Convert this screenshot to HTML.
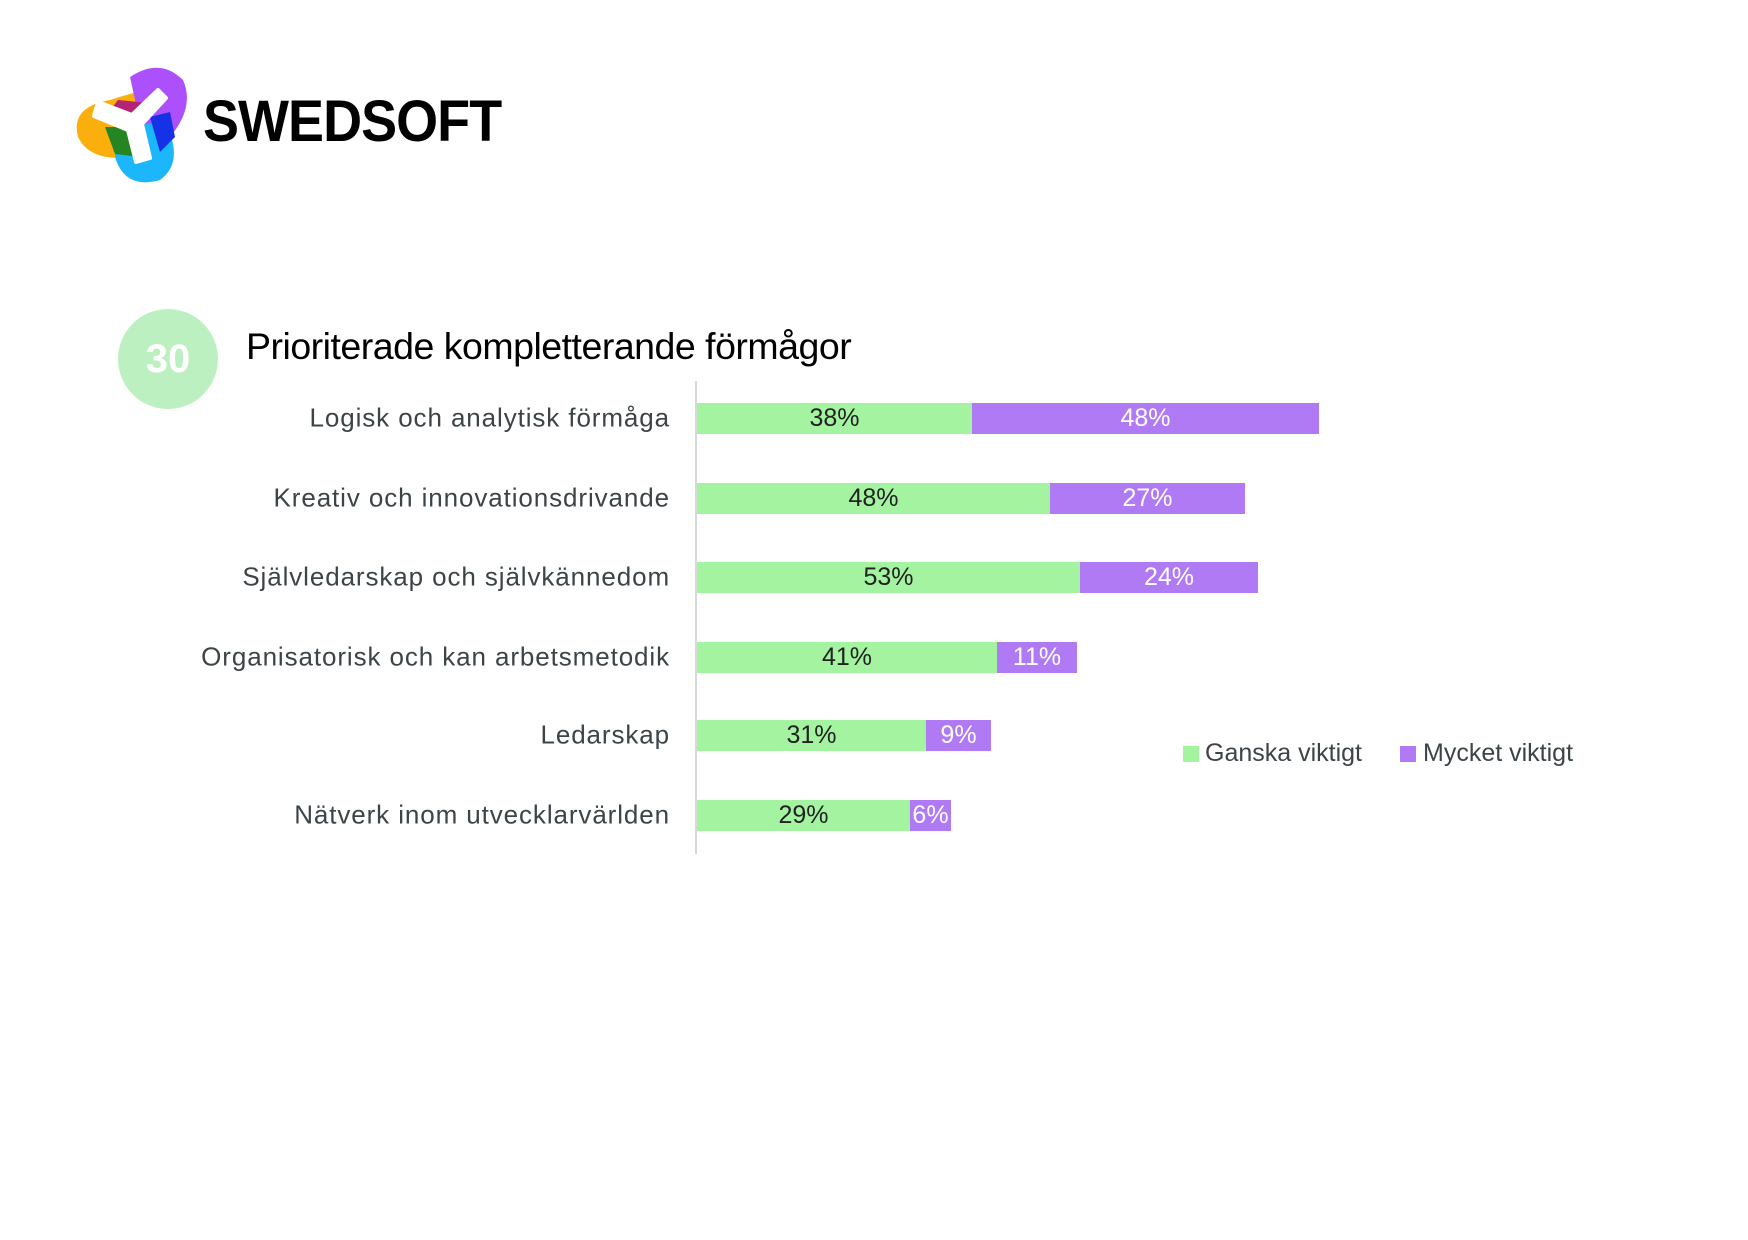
<!DOCTYPE html>
<html><head><meta charset="utf-8"><style>
body{margin:0;width:1748px;height:1240px;background:#fff;position:relative;overflow:hidden;font-family:"Liberation Sans",sans-serif}
.a{position:absolute}
.lab{position:absolute;right:1078px;font-size:26px;letter-spacing:0.9px;color:#3d4448;white-space:nowrap;transform:translateY(-50%)}
.bar{position:absolute;height:31px;font-size:25px;text-align:center;line-height:31px;color:#222}
.g{background:#a3f3a0}.p{background:#b07af5;color:#fff}
</style></head><body>
<svg class="a" style="left:70px;top:62px" width="130" height="130" viewBox="0 0 130 130">
<g opacity="0.95">
<path d="M40 38 Q95 20 105 30 L60 95 Q20 100 8 75 Q0 45 40 38Z" fill="#fbab00"/>
<path d="M60 15 Q90 -5 113 18 Q125 45 100 75 L70 60Z" fill="#a847fb"/>
<path d="M45 65 L95 60 Q115 100 90 118 Q55 128 45 95Z" fill="#10b3fb"/>
<path d="M48 38 L88 42 L73 65 L35 55Z" fill="#b0186f"/>
<path d="M80 55 L100 50 L105 75 L90 90Z" fill="#0a28e6"/>
<path d="M35 65 L65 65 L70 95 L45 92Z" fill="#1a7f18"/>
</g>
<path d="M28 40 L62 53 L88 28 L96 36 L72 62 L80 96 L66 100 L58 68 L24 54Z" fill="#fff" stroke="#fff" stroke-width="4" stroke-linejoin="round"/>
</svg>
<div class="a" style="left:203px;top:88px;font-size:58px;font-weight:bold;letter-spacing:-1px;color:#000;transform:scaleX(0.93);transform-origin:left">SWEDSOFT</div>
<div class="a" style="left:118px;top:309px;width:100px;height:100px;border-radius:50%;background:#bdf0c0;color:#fff;font-weight:bold;font-size:40px;line-height:100px;text-align:center">30</div>
<div class="a" style="left:246px;top:325px;font-size:37.5px;color:#000;letter-spacing:-0.5px">Prioriterade kompletterande förmågor</div>
<div class="a" style="left:695px;top:381px;width:2px;height:473px;background:#d4dad8"></div>

<div class="lab" style="top:418px">Logisk och analytisk förmåga</div>
<div class="bar g" style="left:697px;top:403px;width:275px">38%</div><div class="bar p" style="left:972px;top:403px;width:347px">48%</div>
<div class="lab" style="top:498px">Kreativ och innovationsdrivande</div>
<div class="bar g" style="left:697px;top:483px;width:353px">48%</div><div class="bar p" style="left:1050px;top:483px;width:195px">27%</div>
<div class="lab" style="top:577px">Självledarskap och självkännedom</div>
<div class="bar g" style="left:697px;top:562px;width:383px">53%</div><div class="bar p" style="left:1080px;top:562px;width:178px">24%</div>
<div class="lab" style="top:657px">Organisatorisk och kan arbetsmetodik</div>
<div class="bar g" style="left:697px;top:642px;width:300px">41%</div><div class="bar p" style="left:997px;top:642px;width:80px">11%</div>
<div class="lab" style="top:735px">Ledarskap</div>
<div class="bar g" style="left:697px;top:720px;width:229px">31%</div><div class="bar p" style="left:926px;top:720px;width:65px">9%</div>
<div class="lab" style="top:815px">Nätverk inom utvecklarvärlden</div>
<div class="bar g" style="left:697px;top:800px;width:213px">29%</div><div class="bar p" style="left:910px;top:800px;width:41px">6%</div>

<div class="a" style="left:1183px;top:746px;width:16px;height:16px;background:#a3f3a0"></div>
<div class="a" style="left:1205px;top:739px;font-size:25px;color:#3d4448">Ganska viktigt</div>
<div class="a" style="left:1400px;top:746px;width:16px;height:16px;background:#b07af5"></div>
<div class="a" style="left:1423px;top:739px;font-size:25px;color:#3d4448">Mycket viktigt</div>
</body></html>
